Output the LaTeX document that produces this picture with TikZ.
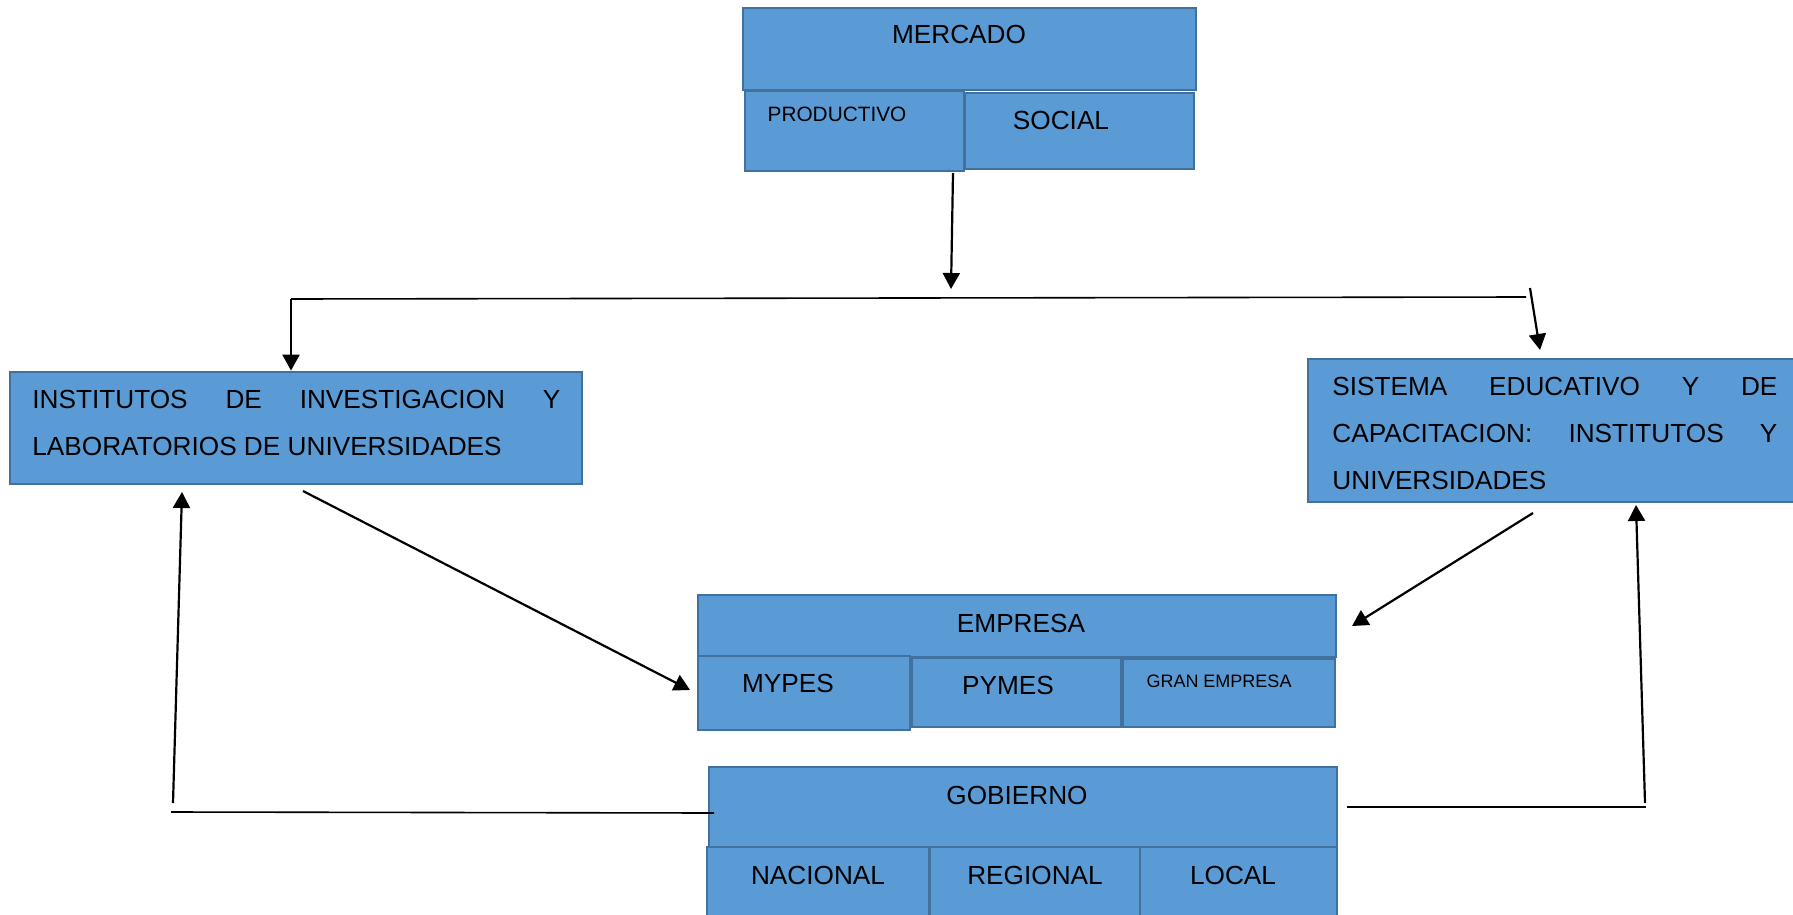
\documentclass[tikz,border=0pt]{standalone}
\usepackage{fontspec}
\setmainfont{Liberation Sans}
\usetikzlibrary{arrows.meta,fit}
\definecolor{cajafondo}{HTML}{5B9BD5}
\definecolor{cajaborde}{HTML}{41719C}
\tikzset{
  caja/.style={draw=cajaborde, fill=cajafondo, line width=1.4pt, inner sep=0pt},
  txt/.style={anchor=base, inner sep=0pt, font=\fontsize{13.1}{15}\selectfont},
  txtchico/.style={txt, font=\fontsize{10.4}{12}\selectfont},
  parrafo/.style={anchor=base west, inner sep=0pt, align=justify, font=\fontsize{13.1}{23.5}\selectfont},
  flecha/.style={line width=1.1pt, -{Triangle[length=8pt,width=8.5pt]}},
  linea/.style={line width=0.8pt},
}
\begin{document}
\begin{tikzpicture}[x=0.5pt, y=-0.5pt]
\clip (0,0) rectangle (1793,915);
\node[caja, fit={(743,8) (1196,90)}] (mercado) {};
\node[caja, fit={(745,91) (964,171)}] (productivo) {};
\node[caja, fit={(965,93) (1194,169)}] (social) {};
\node[txt] (mercado_t) at (959,44) {MERCADO};
\node[txtchico] (productivo_t) at (837,121) {PRODUCTIVO};
\node[txt] (social_t) at (1061,129) {SOCIAL};
\node[caja, fit={(10,372) (582,484)}] (inst) {};
\node[parrafo, text width=264pt] (inst_t) at (32,408) {INSTITUTOS DE INVESTIGACION Y\linebreak LABORATORIOS DE UNIVERSIDADES};
\node[caja, fit={(1308,359) (1800,502)}] (sist) {};
\node[parrafo, text width=222.5pt] (sist_t) at (1332,395) {SISTEMA EDUCATIVO Y DE\linebreak CAPACITACION: INSTITUTOS Y\linebreak UNIVERSIDADES};
\node[caja, fit={(698,595) (1336,657)}] (empresa) {};
\node[caja, fit={(698,656) (910,730)}] (mypes) {};
\node[caja, fit={(912,658) (1121,727)}] (pymes) {};
\node[caja, fit={(1123,659) (1335,727)}] (gran) {};
\node[txt] (empresa_t) at (1021,632) {EMPRESA};
\node[txt] (mypes_t) at (788,692) {MYPES};
\node[txt] (pymes_t) at (1008,694) {PYMES};
\node[txt, font=\fontsize{9}{11}\selectfont] (gran_t) at (1219,687) {GRAN EMPRESA};
\node[caja, fit={(709,767) (1337,847)}] (gob) {};
\node[caja, fit={(707,847) (929,930)}] (nacional) {};
\node[caja, fit={(930,847) (1140,930)}] (regional) {};
\node[caja, fit={(1140,847) (1337,930)}] (local) {};
\node[txt] (gob_t) at (1017,804) {GOBIERNO};
\node[txt] (nacional_t) at (818,884) {NACIONAL};
\node[txt] (regional_t) at (1035,884) {REGIONAL};
\node[txt] (local_t) at (1233,884) {LOCAL};
\coordinate (m_sal) at (953,173);
\coordinate (m_lle) at (951,289);
\coordinate (rama_l) at (291,299);
\coordinate (rama_r) at (1526,297);
\coordinate (s_arr) at (1530,288);
\coordinate (s_lle) at (1540,350);
\coordinate (i_sal) at (303,491);
\coordinate (e_lle_l) at (690,690);
\coordinate (s_sal) at (1533,513);
\coordinate (e_lle_r) at (1352,626);
\coordinate (g_l) at (714,813);
\coordinate (base_l) at (171,812);
\coordinate (sube_l) at (173,803);
\coordinate (i_lle) at (182,492);
\coordinate (g_r) at (1347,807);
\coordinate (base_r) at (1646,807);
\coordinate (sube_r) at (1645,803);
\coordinate (s_lle2) at (1636,505);
\draw[flecha] (m_sal) -- (m_lle);
\draw[linea] (rama_r) -- (rama_l);
\draw[flecha] (rama_l) -- (rama_l |- inst.north);
\draw[flecha] (s_arr) -- (s_lle);
\draw[flecha] (i_sal) -- (e_lle_l);
\draw[flecha] (s_sal) -- (e_lle_r);
\draw[linea] (g_l) -- (base_l);
\draw[flecha] (sube_l) -- (i_lle);
\draw[linea] (g_r) -- (base_r);
\draw[flecha] (sube_r) -- (s_lle2);
\end{tikzpicture}
\end{document}
